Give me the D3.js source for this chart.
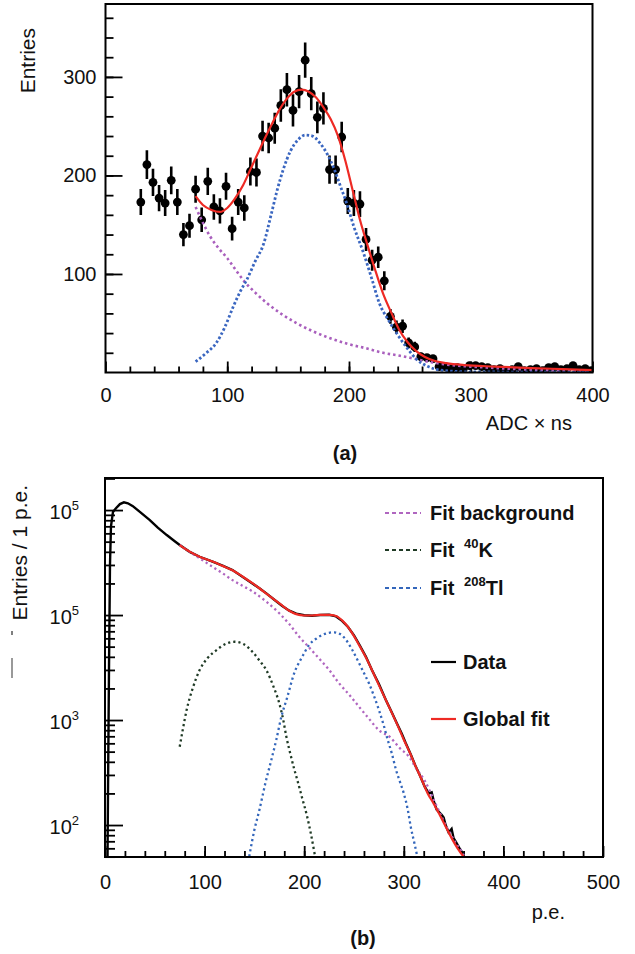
<!DOCTYPE html>
<html><head><meta charset="utf-8">
<script src="https://cdn.jsdelivr.net/npm/d3@7"></script>
<style>
body{margin:0;background:#fff}
svg{display:block}
text{font-family:"Liberation Sans",Arial,Helvetica,sans-serif;fill:#111}
</style>
</head><body>
<svg id="c" width="635" height="954"></svg>
<script>
// ---------- Panel (a) data ----------
const adcX = [29,34,39,44,49,54,59,64,69,74,79,84,89,94,99,104,109,114,119,124,129,134,139,144,149,154,159,164,169,174,179,184,189,194,199,204,209,214,219,224,229,234,239,244,249,254,259,264,269,274,279,284,289,294,299,304,309,314,319,324,329,334,339,344,349,354,359,364,369,374,379,384,389,394,399];
const adcEntries = [173,211,193,177,172,195,173,140,149,186,155,194,168,164,189,146,173,167,204,203,240,238,248,271,287,266,285,317,283,259,268,206,206,239,174,172,171,135,114,117,93,57,46,47,30,26,16,15,14,6,6,4,5,4,7,7,6,5,3,4,2,3,6,2,3,4,2,5,6,3,4,7,3,4,2];

const fitAX = [74,80,87,94,100,106,113,119,125,131,137,143,149,155,161,167,173,179,185,191,197,203,209,215,221,228,235,241,248,255,262,270,280,295,320,350,375,400];
const fitAY = [179,170,165,163,167,176,190,206,222,238,253,267,278,285,287,285,279,269,257,240,215,185,155,130,106,80,60,44,31,22,16,12,9.5,7.5,6,4.5,3.5,2.5];

const tlAX = [74,82,91,98,105,111,116,123,130,136,141,146,152,158,164,170,176,182,188,193,198,204,212,219,225,232,239,247,255,265,275,300,400];
const tlAY = [11,19,30,46,67,83,94,113,131,160,185,206,225,236,241,240,233,222,206,189,172,148,121,94,70,54,40,26,14,6,2.5,0.6,0.3];

const bgAX = [74,80,86,93,100,107,113,123,133,145,157,170,184,199,214,228,242,250,265,283,300,324,350,375,398];
const bgAY = [168,152,138,126,116,104,94,81,70,59,50,42,35,29,24.6,20,17,15,11,7.6,6,4.3,2.8,1.7,0.8];

const xTicksA = [0,100,200,300,400];
const yTicksA = [100,200,300];

// ---------- Panel (b) data ----------
const peX = [0,2,3,4,5,6,8,11,15,19,23,28,35,45,53,62,70,75,85,95,108,118,128,138,148,155,162,170,178,185,192,200,208,216,225,232,238,244,250,256,262,268,275,282,288,293,298,302,307,312,316,321,325,328,330,333,338,340,342,345,348,350,352,356,359,361,363,364];
const peData = [10,10,200,3000,30000,70000,96000,104000,114000,118500,116000,109000,96000,80300,68000,57800,50500,46400,40000,35900,32200,29500,26800,23200,20000,18000,16100,14000,12200,11000,10300,9950,9850,10000,10050,9700,8800,7700,6400,5100,4000,3000,2200,1550,1180,930,740,600,470,360,300,232,200,205,170,140,125,118,100,85,92,75,70,60,54,48,30,10];

const globX = [75,85,95,108,118,128,138,148,155,162,170,178,185,192,200,208,216,225,232,238,244,250,256,262,268,275,282,288,294,300,306,312,318,324,330,336,342,348,354,360,363];
const globY = [46400,40200,36000,32300,29400,26700,23300,20100,18000,16000,14000,12300,11000,10200,9900,9900,10050,10050,9800,8900,7700,6300,5000,3950,3000,2150,1550,1170,880,650,490,360,270,200,160,125,97,75,60,50,46];

const bgBX = [75,85,95,108,118,128,138,148,162,175,185,195,205,215,225,235,245,255,265,275,286,296,305,313,321,330,338,345,352,359,363];
const bgBY = [46400,40000,34700,28800,25000,21500,19000,16800,13400,10400,8200,6210,4900,3850,3000,2240,1750,1340,1030,800,690,540,450,340,265,175,120,88,68,54,46];

const kX = [75,78,82,88,95,103,112,121,130,139,148,155,162,169,175,179,182,186,190,193,198,203,207,211,213];
const kY = [557,800,1250,2000,2990,3900,4640,5300,5570,5300,4470,3700,2990,2100,1440,1000,700,480,340,270,180,120,80,50,40];

const tlBX = [143,150,155,161,167,172,177,183,190,198,205,212,218,224,230,236,242,248,255,260,265,270,275,280,284,288,292,296,300,304,307,311,314,316];
const tlBY = [40,90,139,250,417,650,1070,1650,2800,4000,5200,5950,6450,6750,6850,6600,5800,4700,3500,2800,2240,1700,1250,880,640,480,340,260,200,140,96,65,48,40];

const xTicksB = [0,100,200,300,400,500];
const yTicksB = [1e2,1e3,1e4,1e5];
const yTickLabelsB = [["10","2"],["10","3"],["10","5"],["10","5"]];

const legendItems = [
  {label:"Fit background", sup:"", tail:"", color:"#b066c0", dash:"4,3"},
  {label:"Fit ", sup:"40", tail:"K", color:"#1f3a25", dash:"4,3"},
  {label:"Fit ", sup:"208", tail:"Tl", color:"#3366bb", dash:"4,3"},
  {label:"Data", sup:"", tail:"", color:"#000", dash:null},
  {label:"Global fit", sup:"", tail:"", color:"#ee2a24", dash:null}
];

const svg = d3.select("#c");
const zip = (xs, ys) => xs.map((x,i)=>[x, ys[i]]);

// ================= Panel (a) =================
const xA = d3.scaleLinear().domain([0,400]).range([105.5,592.5]);
const yA = d3.scaleLinear().domain([0,374]).range([372.5,4]);

svg.append("clipPath").attr("id","clipA").append("rect")
  .attr("x",105.5).attr("y",4).attr("width",487).attr("height",368.5);

const gA = svg.append("g");
gA.append("g").attr("transform","translate(0,372.5)")
  .call(d3.axisBottom(xA).tickValues(d3.range(20,400,20)).tickSize(-6).tickFormat(""))
  .call(g=>g.select(".domain").remove());
gA.append("g").attr("transform","translate(105.5,0)")
  .call(d3.axisLeft(yA).tickValues(d3.range(20,374,20)).tickSize(-8).tickFormat(""))
  .call(g=>g.select(".domain").remove());
gA.append("g").attr("transform","translate(0,372.5)")
  .call(d3.axisBottom(xA).tickValues(xTicksA).tickSize(-11).tickPadding(15).tickFormat(d3.format("d")))
  .call(g=>g.select(".domain").remove())
  .call(g=>g.selectAll("text").attr("font-size",20).attr("font-family","Liberation Sans, Arial, sans-serif").attr("fill","#111"));
gA.append("g").attr("transform","translate(105.5,0)")
  .call(d3.axisLeft(yA).tickValues(yTicksA).tickSize(-17).tickPadding(9).tickFormat(d3.format("d")))
  .call(g=>g.select(".domain").remove())
  .call(g=>g.selectAll("text").attr("font-size",20).attr("font-family","Liberation Sans, Arial, sans-serif").attr("fill","#111"));
gA.selectAll(".tick line").attr("stroke","#000").attr("stroke-width",1.8);

const lineA = d3.line().x(d=>xA(d[0])).y(d=>yA(d[1])).curve(d3.curveMonotoneX);
const plotA = gA.append("g").attr("clip-path","url(#clipA)");

plotA.selectAll("line.err").data(zip(adcX, adcEntries)).join("line")
  .attr("x1",d=>xA(d[0])).attr("x2",d=>xA(d[0]))
  .attr("y1",d=>yA(d[1]+Math.sqrt(d[1]))).attr("y2",d=>yA(Math.max(0,d[1]-Math.sqrt(d[1]))))
  .attr("stroke","#000").attr("stroke-width",2.6);
plotA.selectAll("circle").data(zip(adcX, adcEntries)).join("circle")
  .attr("cx",d=>xA(d[0])).attr("cy",d=>yA(d[1])).attr("r",4.4).attr("fill","#000");

plotA.append("path").attr("d",lineA(zip(bgAX,bgAY))).attr("fill","none")
  .attr("stroke","#a95fbd").attr("stroke-width",2.6).attr("stroke-dasharray","2.5,3");
plotA.append("path").attr("d",lineA(zip(tlAX,tlAY))).attr("fill","none")
  .attr("stroke","#3a66c0").attr("stroke-width",2.8).attr("stroke-dasharray","2.5,2.2");
plotA.append("path").attr("d",lineA(zip(fitAX,fitAY))).attr("fill","none")
  .attr("stroke","#ee2a24").attr("stroke-width",2.2);

gA.append("rect").attr("x",105.5).attr("y",4).attr("width",487).attr("height",368.5)
  .attr("fill","none").attr("stroke","#000").attr("stroke-width",2);

gA.append("text").attr("transform","translate(35,28) rotate(-90)").attr("text-anchor","end")
  .attr("font-size",21).text("Entries");
gA.append("text").attr("x",572).attr("y",430).attr("text-anchor","end").attr("font-size",20).text("ADC × ns");
gA.append("text").attr("x",345).attr("y",460).attr("text-anchor","middle").attr("font-size",20).attr("font-weight","bold").text("(a)");

// ================= Panel (b) =================
const xB = d3.scaleLinear().domain([0,500]).range([105,603]);
const yB = d3.scaleLog().domain([49.6,2.02e5]).range([857,478]);

svg.append("clipPath").attr("id","clipB").append("rect")
  .attr("x",105).attr("y",478).attr("width",498).attr("height",379);

const gB = svg.append("g");
gB.append("g").attr("transform","translate(0,857)")
  .call(d3.axisBottom(xB).tickValues(d3.range(20,500,20)).tickSize(-6).tickFormat(""))
  .call(g=>g.select(".domain").remove());
const minorB = [];
[1e1,1e2,1e3,1e4,1e5].forEach(p=>{ for(let k=2;k<=9;k++){ const v=k*p; if(v>49.6 && v<2.02e5) minorB.push(v);} });
gB.append("g").attr("transform","translate(105,0)")
  .call(d3.axisLeft(yB).tickValues(minorB).tickSize(-10).tickFormat(""))
  .call(g=>g.select(".domain").remove());
gB.append("g").attr("transform","translate(0,857)")
  .call(d3.axisBottom(xB).tickValues(xTicksB).tickSize(-11).tickPadding(18).tickFormat(d3.format("d")))
  .call(g=>g.select(".domain").remove())
  .call(g=>g.selectAll("text").attr("font-size",20).attr("font-family","Liberation Sans, Arial, sans-serif").attr("fill","#111"));
gB.append("g").attr("transform","translate(105,0)")
  .call(d3.axisLeft(yB).tickValues(yTicksB).tickSize(-18).tickFormat(""))
  .call(g=>g.select(".domain").remove());
gB.selectAll(".tick line").attr("stroke","#000").attr("stroke-width",1.8);

yTicksB.forEach((v,i)=>{
  const t = gB.append("text").attr("x",79).attr("y",yB(v)+9).attr("text-anchor","end").attr("font-size",20);
  t.append("tspan").text(yTickLabelsB[i][0]);
  t.append("tspan").attr("font-size",13).attr("dy",-9).text(yTickLabelsB[i][1]);
});

const lineB = d3.line().x(d=>xB(d[0])).y(d=>yB(Math.max(d[1],1))).curve(d3.curveMonotoneX);
const lineBLin = d3.line().x(d=>xB(d[0])).y(d=>yB(Math.max(d[1],1)));
const plotB = gB.append("g").attr("clip-path","url(#clipB)");

plotB.append("path").attr("d",lineBLin(zip(peX,peData))).attr("fill","none")
  .attr("stroke","#000").attr("stroke-width",2.4);
plotB.append("path").attr("d",lineB(zip(bgBX,bgBY))).attr("fill","none")
  .attr("stroke","#b066c0").attr("stroke-width",2.3).attr("stroke-dasharray","2.2,3");
plotB.append("path").attr("d",lineB(zip(kX,kY))).attr("fill","none")
  .attr("stroke","#1f3a25").attr("stroke-width",2.3).attr("stroke-dasharray","2.2,3");
plotB.append("path").attr("d",lineB(zip(tlBX,tlBY))).attr("fill","none")
  .attr("stroke","#3366bb").attr("stroke-width",2.3).attr("stroke-dasharray","2.2,3");
plotB.append("path").attr("d",lineB(zip(globX,globY))).attr("fill","none")
  .attr("stroke","#ee2a24").attr("stroke-width",2.2);

gB.append("rect").attr("x",105).attr("y",478).attr("width",498).attr("height",379)
  .attr("fill","none").attr("stroke","#000").attr("stroke-width",2);

const legY = [513,550,588,662,719];
legendItems.forEach((it,i)=>{
  const y = legY[i];
  if (it.dash) {
    gB.append("line").attr("x1",385).attr("x2",421).attr("y1",y).attr("y2",y)
      .attr("stroke",it.color).attr("stroke-width",2).attr("stroke-dasharray",it.dash);
  } else {
    gB.append("line").attr("x1",431).attr("x2",456).attr("y1",y).attr("y2",y)
      .attr("stroke",it.color).attr("stroke-width",2.2);
  }
  const t = gB.append("text").attr("x", it.dash ? 430 : 463).attr("y",y+7)
    .attr("font-size",20).attr("font-weight","bold").attr("xml:space","preserve");
  t.append("tspan").text(it.label);
  if (it.sup) {
    t.append("tspan").attr("dx",4).attr("dy",-9).attr("font-size",13).text(it.sup);
    t.append("tspan").attr("dy",9).text(it.tail);
  }
});

gB.append("text").attr("transform","translate(27,485) rotate(-90)").attr("text-anchor","end")
  .attr("font-size",21).text("Entries / 1 p.e.");
gB.append("line").attr("x1",12).attr("x2",12).attr("y1",631).attr("y2",635).attr("stroke","#555").attr("stroke-width",1.5);
gB.append("line").attr("x1",12).attr("x2",12).attr("y1",658).attr("y2",678).attr("stroke","#777").attr("stroke-width",1.5);
gB.append("text").attr("x",565).attr("y",919).attr("text-anchor","end").attr("font-size",20).text("p.e.");
gB.append("text").attr("x",363).attr("y",945).attr("text-anchor","middle").attr("font-size",20).attr("font-weight","bold").text("(b)");
</script>
</body></html>
